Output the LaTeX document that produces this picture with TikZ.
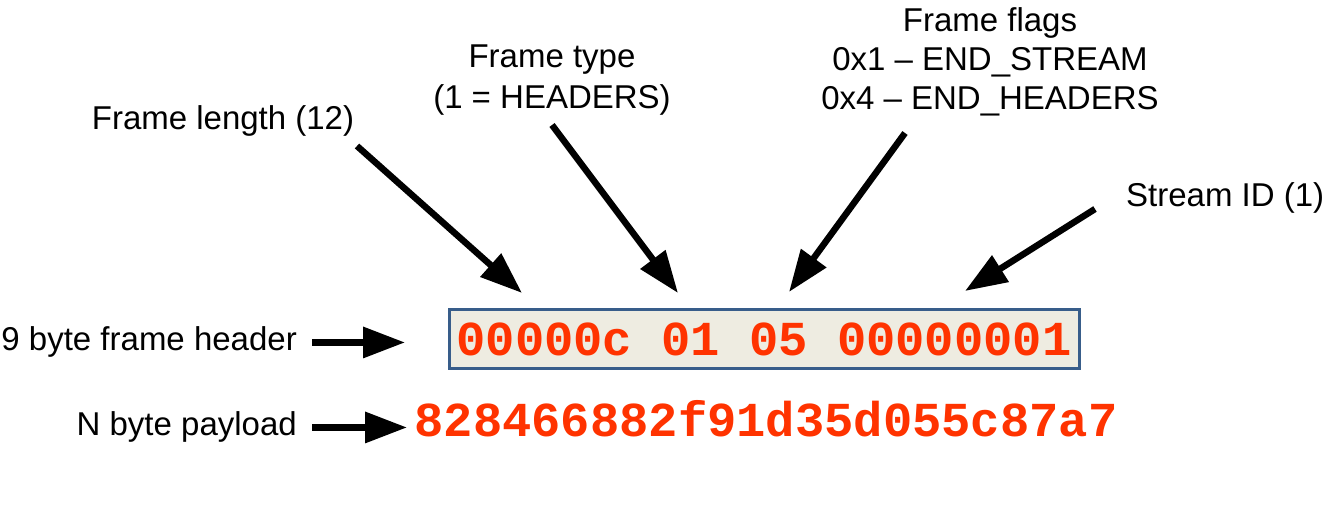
\documentclass[tikz,border=0pt]{standalone}
\usepackage{fontspec}
\setmainfont{Liberation Sans}
\newfontfamily\hexfont{Liberation Mono}
\usetikzlibrary{arrows.meta}
\definecolor{hexred}{HTML}{FF3300}
\definecolor{boxfill}{HTML}{EEECE1}
\definecolor{boxline}{HTML}{385D8A}

\begin{document}
\begin{tikzpicture}[x=1pt, y=-1pt,
    lbl/.style={inner sep=0pt, anchor=base, font=\fontsize{33}{40}\selectfont},
    hex/.style={inner sep=0pt, text=hexred, font=\hexfont\bfseries\fontsize{48.8}{58}\selectfont},
    bigarrow/.style={line width=6.5pt, -{Triangle[length=42pt, width=30pt]}}]
    \useasboundingbox (0,0) rectangle (1342,526);
    % labels
    \node[lbl] (len) at (223,130) {Frame length (12)};
    \node[lbl] (type1) at (552,68) {Frame type};
    \node[lbl] (type2) at (552,109) {(1 = HEADERS)};
    \node[lbl] (flags1) at (990,32) {Frame flags};
    \node[lbl] (flags2) at (990,71) {0x1 – END\_STREAM};
    \node[lbl] (flags3) at (990,110) {0x4 – END\_HEADERS};
    \node[lbl, anchor=base west] (sid) at (1126,207) {Stream ID (1)};
    \node[lbl, anchor=base east] (hdr) at (297,351) {9 byte frame header};
    \node[lbl, anchor=base east] (pay) at (297,436) {N byte payload};
    % header bytes and payload
    \node[hex, draw=boxline, line width=3pt, fill=boxfill, minimum width=630pt, minimum height=59pt] (frame) at (764,339) {00000c 01 05 00000001};
    \node[hex, anchor=base] (data) at (766,437) {828466882f91d35d055c87a7};
    % arrow ends
    \coordinate (lenfoot) at (357,146);
    \coordinate (lentip) at (522,293);
    \coordinate (typefoot) at (552,125);
    \coordinate (typetip) at (678,293);
    \coordinate (flagsfoot) at (905,133);
    \coordinate (flagstip) at (789,292);
    \coordinate (sidfoot) at (1095,209);
    \coordinate (sidtip) at (965,291);
    \draw[bigarrow] (lenfoot) -- (lentip);
    \draw[bigarrow] (typefoot) -- (typetip);
    \draw[bigarrow] (flagsfoot) -- (flagstip);
    \draw[bigarrow] (sidfoot) -- (sidtip);
    \draw[bigarrow] ([xshift=15pt]hdr.east) -- ++(93,0);
    \draw[bigarrow] ([xshift=15pt]pay.east) -- ++(95,0);
\end{tikzpicture}
\end{document}
